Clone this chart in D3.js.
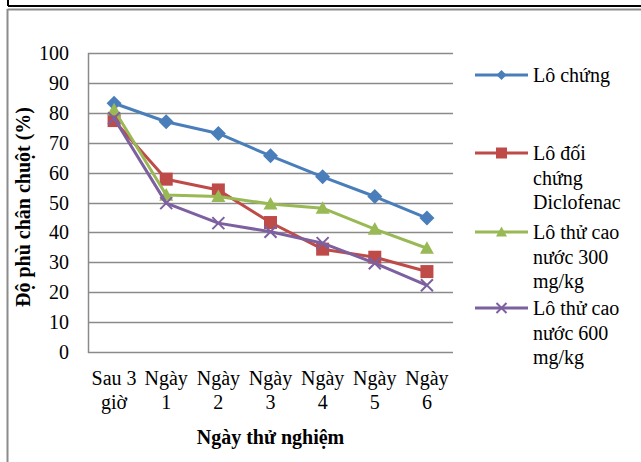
<!DOCTYPE html>
<html>
<head>
<meta charset="utf-8">
<script src="https://cdn.jsdelivr.net/npm/d3@7"></script>
<style>
  body { margin: 0; background: #fff; }
</style>
</head>
<body>
<div class="chart"></div>
<script>
var categories = [["Sau 3", "giờ"], ["Ngày", "1"], ["Ngày", "2"], ["Ngày", "3"], ["Ngày", "4"], ["Ngày", "5"], ["Ngày", "6"]];
var loChung = [83.2, 77.0, 73.1, 65.6, 58.6, 52.0, 44.8];
var loDiclofenac = [77.4, 57.8, 54.2, 43.3, 34.4, 31.7, 26.9];
var loCao300 = [81.0, 52.5, 52.0, 49.5, 48.1, 41.1, 34.7];
var loCao600 = [78.2, 49.8, 43.1, 40.2, 36.4, 29.7, 22.3];
var yTicks = [0, 10, 20, 30, 40, 50, 60, 70, 80, 90, 100];

var series = [
    {name: ["Lô chứng"], values: loChung, color: "#4A7EBB", marker: "diamond"},
    {name: ["Lô đối", "chứng", "Diclofenac"], values: loDiclofenac, color: "#BE4B48", marker: "square"},
    {name: ["Lô thử cao", "nước 300", "mg/kg"], values: loCao300, color: "#98B954", marker: "triangle"},
    {name: ["Lô thử cao", "nước 600", "mg/kg"], values: loCao600, color: "#7D60A0", marker: "x"}
];

var W = 641, H = 462;
var plot = {left: 88, right: 453, top: 53, bottom: 352};
var serif = "'Liberation Serif', serif";

var svg = d3.select(".chart").append("svg")
    .attr("width", W)
    .attr("height", H)
    .style("display", "block");

// frame
svg.append("line").attr("x1", 8).attr("x2", W).attr("y1", 6).attr("y2", 6)
    .attr("stroke", "#000").attr("stroke-width", 2);
svg.append("line").attr("x1", 8).attr("x2", 8).attr("y1", 0).attr("y2", 6)
    .attr("stroke", "#000").attr("stroke-width", 2);
svg.append("line").attr("x1", 7.5).attr("x2", W).attr("y1", 9.5).attr("y2", 9.5)
    .attr("stroke", "#8c8c8c").attr("stroke-width", 2);
svg.append("line").attr("x1", 7.5).attr("x2", 7.5).attr("y1", 9).attr("y2", H)
    .attr("stroke", "#8c8c8c").attr("stroke-width", 2);

var x = d3.scalePoint()
    .domain(d3.range(categories.length))
    .range([plot.left, plot.right])
    .padding(0.5);

var y = d3.scaleLinear().domain([0, 100]).range([plot.bottom, plot.top]);

// grid
svg.selectAll(".grid")
    .data(yTicks)
    .enter()
    .append("line")
    .attr("class", "grid")
    .attr("x1", plot.left)
    .attr("x2", plot.right)
    .attr("y1", function(d){ return Math.round(y(d)) + 0.5; })
    .attr("y2", function(d){ return Math.round(y(d)) + 0.5; })
    .attr("stroke", "#8a8a8a")
    .attr("stroke-width", 1.5);

svg.append("line")
    .attr("x1", plot.left + 0.5).attr("x2", plot.left + 0.5)
    .attr("y1", plot.top).attr("y2", plot.bottom + 1)
    .attr("stroke", "#8a8a8a").attr("stroke-width", 1.5);

// y labels
svg.selectAll(".ylab")
    .data(yTicks)
    .enter()
    .append("text")
    .attr("class", "ylab")
    .attr("x", 69)
    .attr("y", function(d){ return y(d); })
    .attr("dy", "0.35em")
    .attr("text-anchor", "end")
    .style("font-family", serif)
    .style("font-size", "20px")
    .text(function(d){ return d; });

// x labels
var xl = svg.selectAll(".xlab")
    .data(categories)
    .enter()
    .append("text")
    .attr("class", "xlab")
    .attr("text-anchor", "middle")
    .style("font-family", serif)
    .style("font-size", "20px");
xl.append("tspan")
    .attr("x", function(d, i){ return x(i); })
    .attr("y", 385)
    .text(function(d){ return d[0]; });
xl.append("tspan")
    .attr("x", function(d, i){ return x(i); })
    .attr("y", 409)
    .text(function(d){ return d[1]; });

// axis titles
svg.append("text")
    .attr("x", (plot.left + plot.right) / 2)
    .attr("y", 444)
    .attr("text-anchor", "middle")
    .style("font-family", serif)
    .style("font-size", "20px")
    .style("font-weight", "bold")
    .text("Ngày thử nghiệm");

svg.append("text")
    .attr("transform", "translate(30,207) rotate(-90)")
    .attr("text-anchor", "middle")
    .style("font-family", serif)
    .style("font-size", "20px")
    .style("font-weight", "bold")
    .text("Độ phù chân chuột (%)");

// s = half width of marker
function drawMarker(g, type, cx, cy, color, s) {
    if (type == "x") {
        g.append("path")
            .attr("d", "M" + (cx - s) + "," + (cy - s) + "L" + (cx + s) + "," + (cy + s) +
                "M" + (cx - s) + "," + (cy + s) + "L" + (cx + s) + "," + (cy - s))
            .attr("stroke", color).attr("stroke-width", 2).attr("fill", "none");
        return;
    }
    var d;
    if (type == "diamond") {
        d = "M0," + (-s) + "L" + s + ",0L0," + s + "L" + (-s) + ",0Z";
    } else if (type == "square") {
        d = "M" + (-s) + "," + (-s) + "H" + s + "V" + s + "H" + (-s) + "Z";
    } else {
        d = "M0," + (-s) + "L" + s + "," + (s * 0.8) + "L" + (-s) + "," + (s * 0.8) + "Z";
    }
    g.append("path")
        .attr("d", d)
        .attr("transform", "translate(" + cx + "," + cy + ")")
        .attr("fill", color);
}

var markerSize = {diamond: 7.5, square: 6.5, triangle: 7, x: 6};
var legendMarkerSize = {diamond: 5, square: 5.5, triangle: 5.5, x: 5};

var line = d3.line()
    .x(function(d, i){ return x(i); })
    .y(function(d){ return y(d); });

series.forEach(function(s){
    var g = svg.append("g");
    g.append("path")
        .datum(s.values)
        .attr("d", line)
        .attr("fill", "none")
        .attr("stroke", s.color)
        .attr("stroke-width", 3)
        .attr("stroke-linejoin", "round");
    s.values.forEach(function(v, i){
        drawMarker(g, s.marker, x(i), y(v), s.color, markerSize[s.marker]);
    });
});

// legend
var legendY = [75, 153, 232, 308];
series.forEach(function(s, k){
    var g = svg.append("g");
    var ly = legendY[k];
    g.append("line")
        .attr("x1", 475).attr("x2", 528)
        .attr("y1", ly).attr("y2", ly)
        .attr("stroke", s.color).attr("stroke-width", 3);
    drawMarker(g, s.marker, 501.5, ly, s.color, legendMarkerSize[s.marker]);
    s.name.forEach(function(t, j){
        g.append("text")
            .attr("x", 533)
            .attr("y", ly + j * 24.7)
            .attr("dy", "0.35em")
            .style("font-family", serif)
            .style("font-size", "20px")
            .text(t);
    });
});
</script>
</body>
</html>
